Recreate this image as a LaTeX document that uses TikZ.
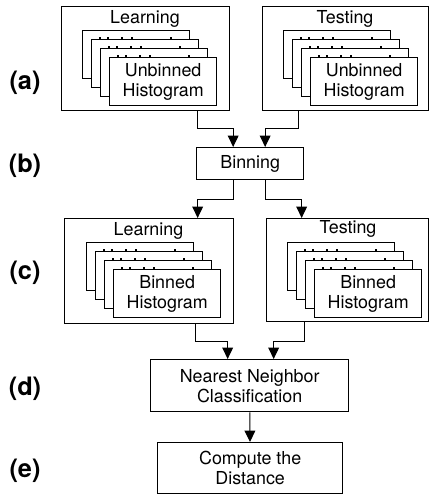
\documentclass[tikz,border=0pt]{standalone}
\usepackage{fontspec}
\setmainfont{TeX Gyre Heros}
\usetikzlibrary{arrows.meta, positioning, calc}

% stack of four histogram sheets: name, left, top, text
\newcommand{\histstack}[4]{%
  \foreach \k in {0,...,3} {
    \node[sheet] (#1\k) at ({#2+9*\k},{#3+9*\k}) {};
    \ifnum\k>0
      \foreach \t in {9,17,31,41,80}
        \draw[tick] ($(#1\k.north west)+(\t,0)$) -- ++(0,-2.5);
    \fi
  }
  \node[txt] (#1txt) at (#13) {#4};
}

\begin{document}
\begin{tikzpicture}[
    x=0.75pt, y=-0.75pt,
    every node/.style={font=\fontsize{13.4}{15}\selectfont},
    box/.style={draw, line width=1pt, anchor=north west, inner sep=0pt, align=center},
    sheet/.style={draw, fill=white, line width=1pt, anchor=north west,
                  minimum width=80.25pt, minimum height=36pt, inner sep=0pt},
    tick/.style={line width=0.9pt},
    txt/.style={align=center, inner sep=0pt},
    tag/.style={font=\fontsize{19}{22}\bfseries\selectfont},
    arrow/.style={-{Triangle[length=8.5pt,width=8pt]}, line width=0.8pt}
]
\useasboundingbox (0,0) rectangle (429,494);

% (a) unbinned
\node[box, minimum width=126pt, minimum height=78pt] (learnA) at (61,6) {};
\node (learnAt) at (145,19) {Learning};
\histstack{la}{82}{30}{Unbinned\\Histogram}
\node[box, minimum width=124.5pt, minimum height=78pt] (testA) at (262,6) {};
\node (testAt) at (345,19) {Testing};
\histstack{ta}{283}{30}{Unbinned\\Histogram}

% (b) binning
\node[box, minimum width=80.25pt, minimum height=24pt] (binning) at (196,147) {Binning};

% (c) binned
\node[box, minimum width=126.75pt, minimum height=78.75pt] (learnC) at (64,218) {};
\node (learnCt) at (148.5,231) {Learning};
\histstack{lc}{86}{242}{Binned\\Histogram}
\node[box, minimum width=121.5pt, minimum height=77.25pt] (testC) at (266,218) {};
\node (testCt) at (348,229) {Testing};
\histstack{tc}{287}{242}{Binned\\Histogram}

% (d) and (e)
\node[box, minimum width=148.5pt, minimum height=39pt] (nn) at (150,359) {Nearest Neighbor\\Classification};
\node[box, minimum width=138.75pt, minimum height=38.25pt] (dist) at (157,442) {Compute the\\Distance};

% labels
\node[tag] (ta) at (25,83) {(a)};
\node[tag] (tb) at (25,166) {(b)};
\node[tag] (tc) at (25,273) {(c)};
\node[tag] (td) at (25,389) {(d)};
\node[tag] (te) at (25,471) {(e)};

% arrows
\draw[arrow] ($(learnA.south)+(52,0)$) -- ++(0,17) -| ($(binning.north)+(-17,0)$);
\draw[arrow] ($(testA.south)+(-47,0)$) -- ++(0,17) -| ($(binning.north)+(15,0)$);
\draw[arrow] ($(binning.south)+(-16.5,0)$) -- ++(0,19) -| ($(learnC.north)+(48.5,0)$);
\draw[arrow] ($(binning.south)+(15.5,0)$) -- ++(0,19) -| ($(testC.north)+(-46,0)$);
\draw[arrow] ($(learnC.south)+(46.5,0)$) -- ++(0,17) -| ($(nn.north)+(-22,0)$);
\draw[arrow] ($(testC.south)+(-43,0)$) -- ++(0,19) -| ($(nn.north)+(24,0)$);
\draw[arrow] (nn) -- (dist);

\end{tikzpicture}
\end{document}
